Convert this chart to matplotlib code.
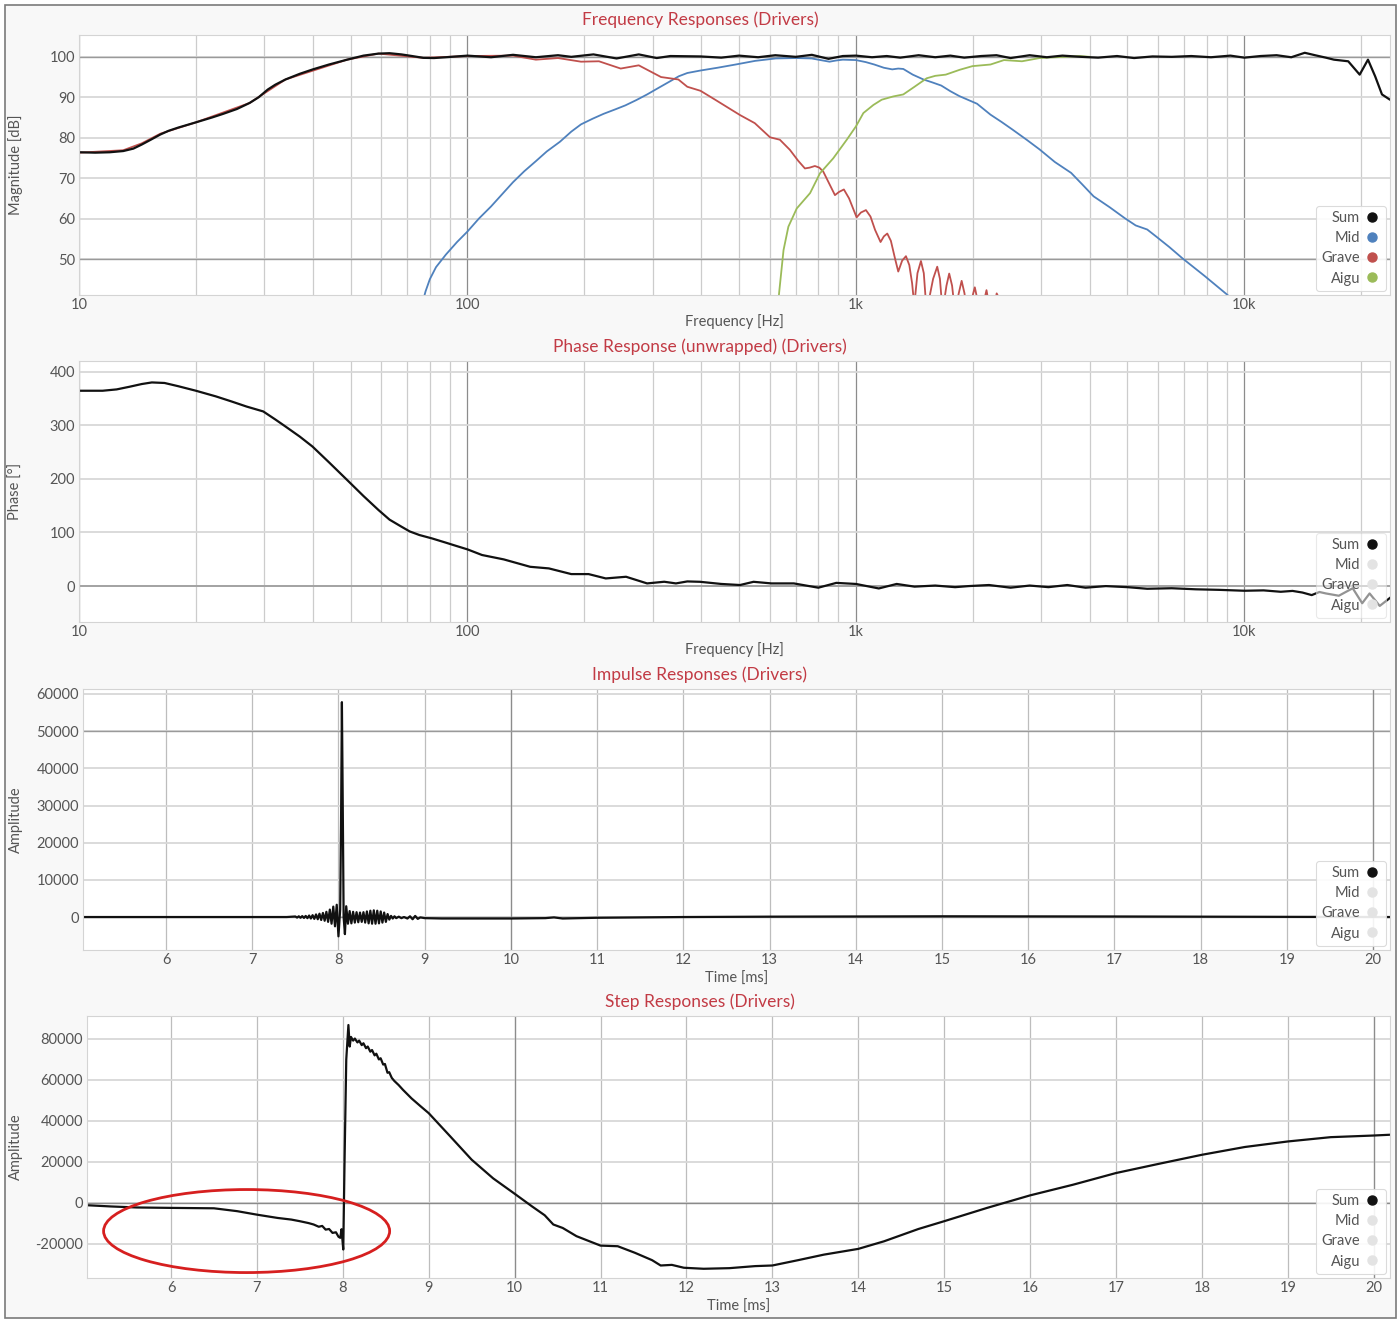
import numpy as np
import matplotlib
matplotlib.use("Agg")
import matplotlib.pyplot as plt
import matplotlib.ticker as ticker
from matplotlib.lines import Line2D
from matplotlib.patches import Ellipse, Rectangle

plt.rcParams['font.family'] = ['Lato', 'DejaVu Sans']
plt.rcParams['axes.unicode_minus'] = False

# ---------------- magnitude [dB] ----------------
f_sum = [10, 11, 12, 13, 13.8, 14.5, 15.3, 16.2, 17, 18,
         20, 22, 23.5, 25.5, 27.5, 29, 30.6, 32, 34, 37,
         40, 44, 49, 54, 59, 63, 67.6, 72, 77, 82,
         88, 100, 115, 131, 150, 171, 185, 211, 242, 276,
         307, 333, 398, 450, 500, 560, 620, 700, 770, 850,
         925, 1000, 1100, 1200, 1300, 1450, 1600, 1750, 1900, 2100,
         2300, 2500, 2800, 3100, 3400, 3800, 4200, 4700, 5200, 5800,
         6500, 7300, 8200, 9200, 10000, 11000, 12100, 13200, 14300, 15200,
         16200, 17000, 18500, 19800, 20800, 21700, 22600, 23700, 24200]
db_sum = [76.4, 76.3, 76.4, 76.7, 77.3, 78.3, 79.5, 80.8, 81.7, 82.5,
          83.8, 85.0, 85.9, 87.1, 88.6, 90.0, 91.9, 93.1, 94.4, 95.8,
          96.9, 98.1, 99.3, 100.3, 100.8, 100.9, 100.6, 100.2, 99.75, 99.7,
          99.9, 100.3, 99.9, 100.5, 99.9, 100.4, 100.0, 100.6, 99.6, 100.6,
          99.7, 100.2, 100.1, 99.8, 100.3, 99.9, 100.4, 100.0, 100.5, 99.5,
          100.2, 100.3, 99.9, 100.2, 99.8, 100.4, 99.9, 100.3, 99.8, 100.2,
          100.4, 99.7, 100.4, 99.9, 100.3, 100.0, 99.8, 100.2, 99.7, 100.1,
          100.0, 100.2, 99.9, 100.3, 99.8, 100.2, 100.4, 99.9, 101.0, 100.4,
          99.8, 99.3, 98.9, 95.6, 99.3, 95.2, 90.7, 89.4, 89.3]

f_grave = [10, 13, 14.5, 16.2, 20, 27.5, 34, 49, 59, 77,
           100, 131, 150, 171, 196, 218, 248, 276, 315, 349,
           368, 398, 434, 503, 549, 601, 637, 676, 710, 739,
           760, 784, 805, 824, 855, 883, 905, 931, 960, 1004,
           1030, 1061, 1090, 1120, 1157, 1180, 1204, 1230, 1260, 1285,
           1315, 1345, 1372, 1395, 1413, 1440, 1470, 1495, 1520, 1580,
           1619, 1645, 1671, 1710, 1738, 1768, 1798, 1840, 1871, 1902,
           1934, 1985, 2023, 2054, 2084, 2133, 2168, 2195, 2221, 2270,
           2303, 2330]
db_grave = [76.3, 76.9, 78.6, 81.0, 83.8, 88.6, 94.4, 99.3, 100.8, 99.75,
            100.2, 100.3, 99.3, 99.7, 98.8, 98.9, 97.1, 97.9, 95.0, 94.4,
            92.6, 91.6, 89.4, 85.6, 83.6, 80.1, 79.5, 77.0, 74.3, 72.4,
            72.6, 73.0, 72.6, 71.6, 68.5, 65.8, 66.6, 67.2, 65.0, 60.3,
            61.5, 62.1, 60.5, 57.2, 54.2, 55.6, 56.3, 54.5, 50.2, 46.9,
            49.6, 50.7, 48.5, 44.0, 38.5, 46.5, 49.5, 46.5, 37.0, 45.1,
            48.1, 45.1, 37.0, 43.4, 46.4, 43.4, 37.0, 41.6, 44.6, 41.6,
            37.0, 40.0, 43.0, 40.0, 37.0, 39.3, 42.3, 39.3, 37.0, 38.5,
            41.5, 40.5]

f_mid = [77, 78, 80, 83, 88, 94, 100, 107, 115, 123,
         131, 140, 150, 160, 173, 185, 196, 210, 224, 240,
         255, 272, 290, 310, 333, 350, 368, 397, 440, 490,
         550, 622, 700, 769, 810, 855, 890, 925, 1000, 1060,
         1115, 1180, 1240, 1285, 1324, 1400, 1492, 1570, 1658, 1750,
         1845, 1950, 2050, 2130, 2220, 2370, 2530, 2750, 2970, 3250,
         3580, 3820, 4090, 4500, 4920, 5250, 5620, 5920, 6400, 6920,
         7900, 9050, 9500]
db_mid = [40.0, 42.0, 45.0, 48.0, 51.1, 54.2, 56.8, 60.0, 63.0, 66.1,
          69.0, 71.7, 74.2, 76.6, 79.0, 81.5, 83.3, 84.7, 85.9, 87.0,
          88.0, 89.3, 90.7, 92.3, 94.0, 95.2, 96.0, 96.6, 97.3, 98.1,
          99.0, 99.6, 99.7, 99.6, 99.2, 98.8, 99.1, 99.3, 99.2, 98.7,
          98.1, 97.3, 96.9, 97.1, 97.0, 95.6, 94.4, 93.7, 92.9, 91.5,
          90.3, 89.3, 88.4, 87.1, 85.7, 83.9, 82.0, 79.5, 77.1, 74.0,
          71.3, 68.5, 65.5, 62.8, 60.1, 58.3, 57.3, 55.6, 53.0, 50.2,
          45.8, 41.1, 39.0]

f_aigu = [628, 634, 651, 670, 704, 762, 808, 874, 947, 1000,
          1045, 1109, 1165, 1247, 1324, 1415, 1521, 1600, 1703, 1850,
          1995, 2220, 2405, 2675, 2970, 3770, 4000]
db_aigu = [37.0, 41.5, 52.2, 58.0, 62.5, 66.3, 71.2, 74.9, 79.5, 82.8,
           86.1, 88.1, 89.4, 90.2, 90.7, 92.6, 94.7, 95.3, 95.6, 96.8,
           97.7, 98.1, 99.2, 98.9, 99.7, 100.2, 100.0]

# ---------------- phase [deg] ----------------
f_ph = [10, 11.5, 12.5, 13.5, 14.5, 15.4, 16.6, 18, 20, 22.5,
        24.7, 27, 29.8, 32, 34, 37, 39.9, 44, 49, 54,
        59, 63, 67.6, 71, 75.2, 81, 88, 94, 100, 109,
        124, 145, 162, 185, 205, 227, 256, 290, 321, 344,
        368, 397, 450, 503, 545, 606, 692, 800, 890, 1000,
        1145, 1273, 1415, 1600, 1800, 1950, 2200, 2500, 2800, 3130,
        3500, 3900, 4400, 5000, 5620, 6500, 7500, 8600, 10000, 11200,
        12400, 13300, 14100, 14900, 15600, 16200, 17500, 19000, 20100, 21000,
        22300, 23700]
ph_sum = [364.5, 364.5, 367, 372, 377, 380, 379, 373, 364.5, 354,
          344.5, 335, 325.9, 311, 297.8, 279, 260.4, 231, 198, 168,
          142, 124, 110.9, 102, 95.3, 89, 81, 74.5, 68.5, 58,
          49.8, 36, 33, 22.4, 22.4, 14.3, 17.4, 5, 8.1, 5,
          8.7, 8, 4, 2, 8, 5, 5, -3, 6, 4,
          -4.4, 4, -1, 1, -2, 0, 2, -3, 1, -2,
          2, -3, 0, -2, -5, -4, -6, -7, -8.7, -8,
          -10.6, -9, -12, -16.8, -11, -13.7, -18, -4, -32, -13.7,
          -37, -22]

# ---------------- impulse ----------------
t_imp = [5.03, 6.0, 7.0, 7.40,
         7.50, 7.52, 7.54, 7.56, 7.58, 7.60, 7.62, 7.64, 7.66, 7.68,
         7.70, 7.72, 7.74, 7.76, 7.78, 7.80, 7.82, 7.84, 7.86, 7.88,
         7.90, 7.92, 7.94, 7.96, 7.98, 8.00, 8.02, 8.03, 8.04, 8.05,
         8.06, 8.075, 8.09, 8.11, 8.13, 8.15, 8.17, 8.19, 8.21, 8.23,
         8.25, 8.27, 8.29, 8.31, 8.33, 8.35, 8.37, 8.39, 8.41, 8.43,
         8.45, 8.47, 8.49, 8.51, 8.53, 8.55, 8.57, 8.59, 8.61, 8.63,
         8.65, 8.67, 8.70, 8.73, 8.76, 8.80, 8.83, 8.86, 8.89, 8.92,
         8.95, 9.00, 9.20, 9.60, 10.0, 10.4, 10.5, 10.6, 11.0, 12.0,
         13.0, 15.0, 17.0, 19.0, 20.2]
amp_imp = [0, 0, 0, 0,
           150, -150, 200, -200, 250, -250, 300, -300, 400, -400,
           500, -500, 700, -600, 900, -800, 1100, -1000, 1400, -1300,
           2000, -1800, 2800, -2500, 3300, -5200, 2000, 25000, 57800, 30000,
           0, -4600, 2900, -1800, 1600, -1700, 1400, -1500, 1300, -1400,
           1200, -1300, 1300, -1500, 1500, -1700, 1700, -1800, 1800, -1800,
           1700, -1700, 1500, -1500, 1200, -1300, 800, -700, 300, -400,
           200, -300, 100, -300, 0, -400, 200, -600, 300, -500,
           -100, -300, -400, -400, -400, -300, -100, -400, -200, 0,
           100, 200, 150, 50, 0]

# ---------------- step ----------------
t_step = [5.02, 5.3, 5.6, 6.0, 6.5, 6.77, 7.0, 7.24, 7.4, 7.5,
          7.6, 7.66, 7.72, 7.76, 7.8, 7.84, 7.88, 7.92, 7.95, 7.97,
          7.985, 8.005, 8.02, 8.04, 8.065, 8.08, 8.095, 8.12, 8.14, 8.17,
          8.19, 8.22, 8.24, 8.27, 8.29, 8.32, 8.34, 8.37, 8.39, 8.42,
          8.44, 8.47, 8.49, 8.52, 8.54, 8.57, 8.60, 8.65, 8.70, 8.80,
          8.91, 9.0, 9.25, 9.5, 9.75, 10.0, 10.2, 10.35, 10.45, 10.56,
          10.72, 11.0, 11.2, 11.4, 11.6, 11.7, 11.83, 11.97, 12.2, 12.5,
          12.8, 13.0, 13.3, 13.6, 14.0, 14.3, 14.7, 15.0, 15.5, 16.0,
          16.5, 17.0, 17.5, 18.0, 18.5, 19.0, 19.5, 20.0, 20.2]
amp_step = [-1100, -1700, -2200, -2400, -2600, -4000, -5700, -7300, -8100, -8900,
            -9800, -10500, -11600, -11200, -13000, -12700, -14600, -14300, -16500, -17000,
            -12800, -22700, 20000, 70000, 86800, 76300, 81000, 79200, 80200, 78300,
            79200, 77000, 77900, 75500, 76300, 73800, 74600, 72000, 72800, 70000,
            70600, 67500, 67800, 63500, 63800, 61000, 59500, 57500, 55200, 51000,
            47000, 43800, 32500, 21100, 12000, 4500, -1600, -6000, -10500, -12200,
            -16200, -20800, -21100, -24300, -27900, -30500, -30200, -31600, -32100, -31800,
            -30800, -30500, -27900, -25200, -22400, -18700, -12700, -8900, -2400, 3700,
            8900, 14600, 19100, 23500, 27300, 30000, 32100, 32900, 33300]

names = ["Sum", "Mid", "Grave", "Aigu"]
c_sum, c_mid, c_grave, c_aigu = '#111111', '#4f81bd', '#c0504d', '#9bbb59'
off = '#e3e3e3'

W, H = 1400, 1323
fig = plt.figure(figsize=(W / 100, H / 100), dpi=100)
fig.patch.set_facecolor('white')
fig.patches.append(Rectangle((5 / W, 5 / H), 1391 / W, 1313 / H, transform=fig.transFigure,
                             facecolor='#f8f8f8', edgecolor='#7a7a7a', lw=1.2, zorder=-10))

def box(left, top, right, bottom):
    return [left / W, 1 - bottom / H, (right - left) / W, (bottom - top) / H]

ax1 = fig.add_axes(box(79, 35, 1390, 295))
ax2 = fig.add_axes(box(79, 361, 1390, 622))
ax3 = fig.add_axes(box(83, 689, 1390, 950))
ax4 = fig.add_axes(box(87, 1016, 1390, 1278))

txt = '#555555'
red_title = '#c23b45'

def style(ax):
    ax.set_facecolor('white')
    for s in ax.spines.values():
        s.set_color('#d4d4d4')
        s.set_linewidth(0.8)
    ax.tick_params(which='both', length=0, colors=txt, labelsize=10.5)
    ax.tick_params(axis='x', pad=2.5)
    ax.tick_params(axis='y', pad=3)
    ax.set_axisbelow(True)

def freq_axis(ax):
    ax.set_xscale('log')
    ax.set_xlim(10, 23700)
    ax.xaxis.set_major_locator(ticker.FixedLocator([10, 100, 1000, 10000]))
    ax.xaxis.set_minor_locator(ticker.LogLocator(base=10, subs=np.arange(2, 10)))
    ax.xaxis.set_minor_formatter(ticker.NullFormatter())
    ax.xaxis.set_major_formatter(ticker.FuncFormatter(
        lambda v, p: {10: '10', 100: '100', 1000: '1k', 10000: '10k'}.get(int(round(v)), '')))
    ax.grid(which='major', axis='x', color='#8c8c8c', lw=0.9)
    ax.grid(which='minor', axis='x', color='#cccccc', lw=0.9)
    ax.grid(which='major', axis='y', color='#d8d8d8', lw=1.3)
    ax.set_xlabel('Frequency [Hz]', color=txt, fontsize=10.5)
    ax.xaxis.set_label_coords(0.5, -0.075)

def time_axis(ax):
    ax.xaxis.set_major_locator(ticker.MultipleLocator(1))
    ax.grid(which='major', axis='x', color='#bdbdbd', lw=0.9)
    ax.grid(which='major', axis='y', color='#d8d8d8', lw=1.3)
    ax.axvline(10, color='#8c8c8c', lw=0.9, zorder=0.6)
    ax.axvline(20, color='#8c8c8c', lw=0.9, zorder=0.6)
    ax.set_xlabel('Time [ms]', color=txt, fontsize=10.5)
    ax.xaxis.set_label_coords(0.5, -0.083)

def legend(ax, colors, alpha):
    handles = [Line2D([], [], ls='none', marker='o', ms=6.5, mfc=c, mec=c) for c in colors]
    leg = ax.legend(handles, names, loc='lower right', markerfirst=False, fontsize=10.5,
                    handlelength=1.2, handletextpad=0.2, labelspacing=0.42, borderpad=0.35,
                    borderaxespad=0.3, framealpha=alpha, fancybox=True,
                    edgecolor='#d8d8d8', facecolor='white')
    for t in leg.get_texts():
        t.set_color(txt)
    leg.get_frame().set_linewidth(0.8)

for ax in (ax1, ax2, ax3, ax4):
    style(ax)

# --- Frequency responses ---
freq_axis(ax1)
ax1.set_ylim(41.1, 105.4)
ax1.yaxis.set_major_locator(ticker.FixedLocator([50, 60, 70, 80, 90, 100]))
for v in (50, 100):
    ax1.axhline(v, color='#9a9a9a', lw=1.0, zorder=0.6)
ax1.plot(f_mid, db_mid, color=c_mid, lw=1.3)
ax1.plot(f_grave, db_grave, color=c_grave, lw=1.3)
ax1.plot(f_aigu, db_aigu, color=c_aigu, lw=1.3)
ax1.plot(f_sum, db_sum, color=c_sum, lw=1.6)
ax1.set_ylabel('Magnitude [dB]', color=txt, fontsize=10.5)
ax1.yaxis.set_label_coords(-0.0427, 0.5)
legend(ax1, [c_sum, c_mid, c_grave, c_aigu], 0.9)

# --- Phase ---
freq_axis(ax2)
ax2.set_ylim(-67, 420)
ax2.yaxis.set_major_locator(ticker.MultipleLocator(100))
ax2.axhline(0, color='#9a9a9a', lw=1.2, zorder=0.6)
ax2.plot(f_ph, ph_sum, color=c_sum, lw=1.6)
ax2.set_ylabel('Phase [°]', color=txt, fontsize=10.5)
ax2.yaxis.set_label_coords(-0.0427, 0.5)
legend(ax2, [c_sum, off, off, off], 0.55)

# --- Impulse ---
time_axis(ax3)
ax3.set_xlim(5.037, 20.197)
ax3.set_ylim(-8870, 61340)
ax3.yaxis.set_major_locator(ticker.MultipleLocator(10000))
for v in (0, 50000):
    ax3.axhline(v, color='#9a9a9a', lw=1.0, zorder=0.6)
ax3.plot(t_imp, amp_imp, color=c_sum, lw=1.6)
ax3.set_ylabel('Amplitude', color=txt, fontsize=10.5)
ax3.yaxis.set_label_coords(-0.0459, 0.5)
legend(ax3, [c_sum, off, off, off], 0.9)

# --- Step ---
time_axis(ax4)
ax4.set_xlim(5.022, 20.19)
ax4.set_ylim(-36600, 91200)
ax4.yaxis.set_major_locator(ticker.MultipleLocator(20000))
ax4.axhline(0, color='#8a8a8a', lw=1.0, zorder=0.6)
ax4.plot(t_step, amp_step, color=c_sum, lw=1.6)
ax4.set_ylabel('Amplitude', color=txt, fontsize=10.5)
ax4.yaxis.set_label_coords(-0.0491, 0.5)
legend(ax4, [c_sum, off, off, off], 0.9)
ax4.add_patch(Ellipse((6.88, -13700), 3.33, 40500, fill=False, edgecolor='#d61f1f', lw=2.0, zorder=6))

titles = ["Frequency Responses (Drivers)", "Phase Response (unwrapped) (Drivers)",
          "Impulse Responses (Drivers)", "Step Responses (Drivers)"]
for title, ypx in zip(titles, (20, 347, 675, 1002)):
    fig.text(0.5, 1 - ypx / H, title, ha='center', va='center', color=red_title, fontsize=12.5)

fig.savefig('out.png', dpi=100, facecolor=fig.get_facecolor())
